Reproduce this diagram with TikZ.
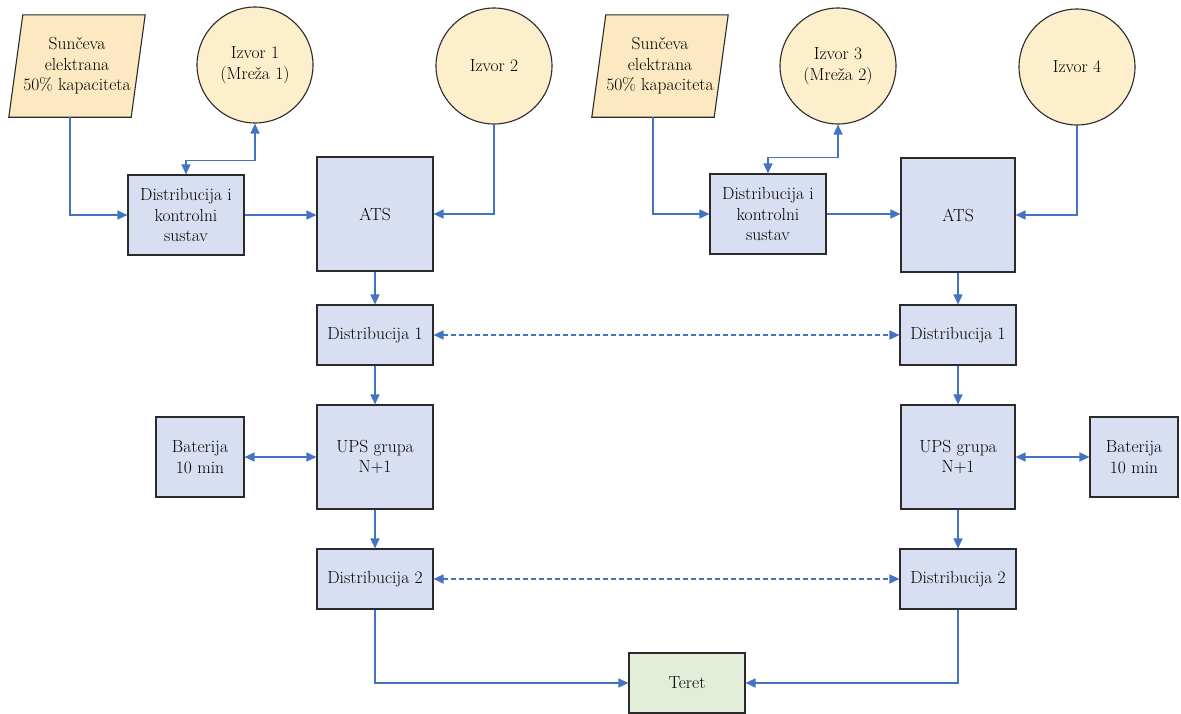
\documentclass[tikz,border=0pt]{standalone}
\usepackage{fontspec}
\usetikzlibrary{arrows.meta}
\definecolor{boxfill}{HTML}{D9DFF2}
\definecolor{srcfill}{HTML}{FDEFCB}
\definecolor{sunfill}{HTML}{FCE9C2}
\definecolor{loadfill}{HTML}{E3EED9}
\definecolor{linkblue}{HTML}{4472C4}
\definecolor{edge}{HTML}{2B2B2B}
\tikzset{
  every node/.style={font=\fontsize{17.5}{20.5}\selectfont, align=center, inner sep=0pt},
  blk/.style={draw=edge, line width=1.1pt, fill=boxfill, rectangle},
  src/.style={draw=edge, line width=1.1pt, fill=srcfill, circle, minimum size=116pt},
  sunbox/.style={rectangle, minimum width=122pt, minimum height=102pt},
  sunshape/.style={draw=edge, line width=1.1pt, fill=sunfill},
  loadbox/.style={draw=edge, line width=1.1pt, fill=loadfill, rectangle},
  link/.style={draw=linkblue, line width=1.5pt, -{Triangle[length=10pt,width=9pt]}},
  link2/.style={draw=linkblue, line width=1.5pt, {Triangle[length=10pt,width=9pt]}-{Triangle[length=10pt,width=9pt]}},
  dlink/.style={link2, dash pattern=on 5pt off 3pt}
}
\begin{document}
\begin{tikzpicture}[x=1pt,y=-1pt]
\useasboundingbox (0,0) rectangle (1181,713);

% ---------- left side ----------
\node[sunbox] (sun1) at (77,66) {};
\draw[sunshape] ([xshift=7pt]sun1.north west) -- ([xshift=7pt]sun1.north east)
  -- ([xshift=-7pt]sun1.south east) -- ([xshift=-7pt]sun1.south west) -- cycle;
\node at (sun1.center) {Sunčeva\\elektrana\\50\% kapaciteta};

\node[src] (izv1) at (255,65) {Izvor 1\\(Mreža 1)};
\node[src] (izv2) at (494,66) {Izvor 2};
\node[blk, minimum width=116pt, minimum height=80pt] (dk1) at (186,215) {Distribucija i\\kontrolni\\sustav};
\node[blk, minimum width=116pt, minimum height=114pt] (ats1) at (375,214) {ATS};
\node[blk, minimum width=116pt, minimum height=60pt] (d1l) at (375,335) {Distribucija 1};
\node[blk, minimum width=88pt, minimum height=80pt] (bat1) at (200,457) {Baterija\\10 min};
\node[blk, minimum width=116pt, minimum height=104pt] (ups1) at (375,457) {UPS grupa\\N+1};
\node[blk, minimum width=116pt, minimum height=60pt] (d2l) at (375,579) {Distribucija 2};

% ---------- right side ----------
\node[sunbox] (sun2) at (660,66) {};
\draw[sunshape] ([xshift=7pt]sun2.north west) -- ([xshift=7pt]sun2.north east)
  -- ([xshift=-7pt]sun2.south east) -- ([xshift=-7pt]sun2.south west) -- cycle;
\node at (sun2.center) {Sunčeva\\elektrana\\50\% kapaciteta};

\node[src] (izv3) at (838,66) {Izvor 3\\(Mreža 2)};
\node[src] (izv4) at (1077,67) {Izvor 4};
\node[blk, minimum width=116pt, minimum height=80pt] (dk2) at (768,214) {Distribucija i\\kontrolni\\sustav};
\node[blk, minimum width=114pt, minimum height=114pt] (ats2) at (958,215) {ATS};
\node[blk, minimum width=116pt, minimum height=60pt] (d1r) at (958,335) {Distribucija 1};
\node[blk, minimum width=114pt, minimum height=104pt] (ups2) at (958,457) {UPS grupa\\N+1};
\node[blk, minimum width=88pt, minimum height=80pt] (bat2) at (1134,457) {Baterija\\10 min};
\node[blk, minimum width=116pt, minimum height=60pt] (d2r) at (958,579) {Distribucija 2};

% ---------- load ----------
\node[loadbox, minimum width=116pt, minimum height=60pt] (teret) at (687,683) {Teret};

% ---------- connectors left ----------
\draw[link] ([xshift=-7pt]sun1.south) |- (dk1.west);
\draw[link2] (dk1.north) -- ++(0,-14) -| (izv1.south);
\draw[link] (dk1.east) -- (dk1.east -| ats1.west);
\draw[link] (izv2.south) |- (ats1.east);
\draw[link] (ats1.south) -- (d1l.north);
\draw[link] (d1l.south) -- (ups1.north);
\draw[link2] (bat1.east) -- (ups1.west);
\draw[link] (ups1.south) -- (d2l.north);
\draw[link] (d2l.south) |- (teret.west);

% ---------- connectors right ----------
\draw[link] ([xshift=-7pt]sun2.south) |- (dk2.west);
\draw[link2] (dk2.north) -- ++(0,-16) -| (izv3.south);
\draw[link] (dk2.east) -- (dk2.east -| ats2.west);
\draw[link] (izv4.south) |- (ats2.east);
\draw[link] (ats2.south) -- (d1r.north);
\draw[link] (d1r.south) -- (ups2.north);
\draw[link2] (ups2.east) -- (bat2.west);
\draw[link] (ups2.south) -- (d2r.north);
\draw[link] (d2r.south) |- (teret.east);

% ---------- dashed cross links ----------
\draw[dlink] (d1l.east) -- (d1r.west);
\draw[dlink] (d2l.east) -- (d2r.west);
\end{tikzpicture}
\end{document}
